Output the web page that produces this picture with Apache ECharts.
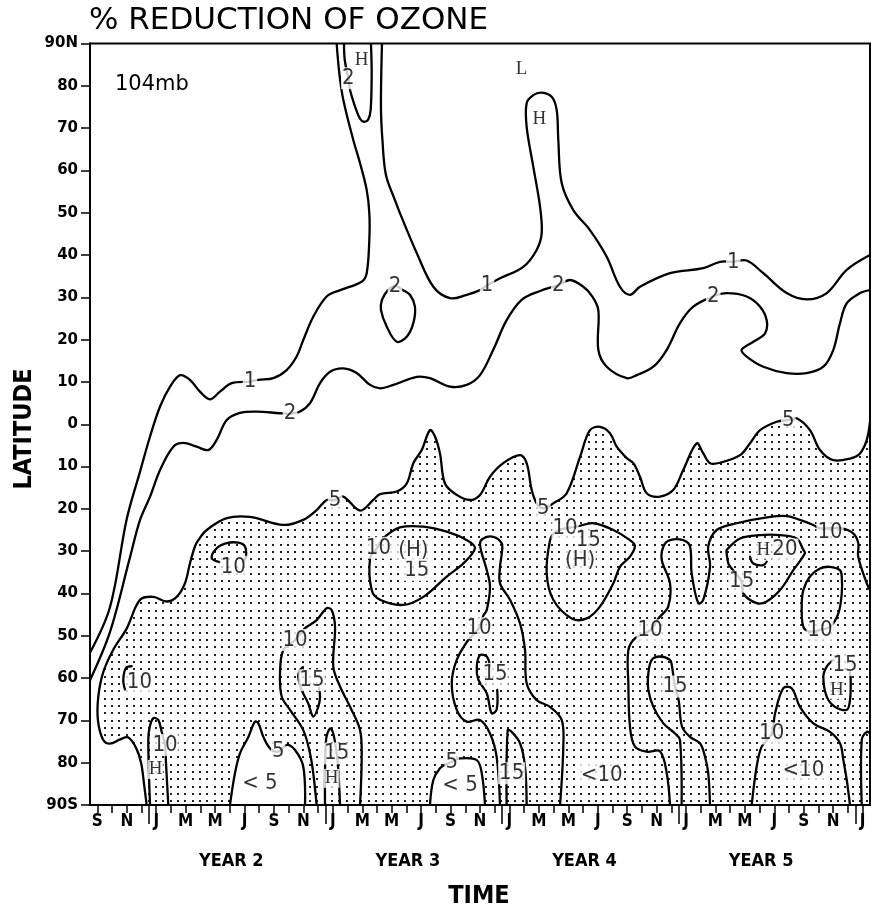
<!DOCTYPE html>
<html><head><meta charset="utf-8">
<script src="https://cdn.jsdelivr.net/npm/echarts@6/dist/echarts.min.js"></script>
<style>html,body{margin:0;padding:0;background:#fff}#c{width:872px;height:906px}</style>
</head><body><div id="c"></div>
<script>
// x = months since start of Sep, Year 1 ; y = latitude (deg, + north)
const xTickLabels = ['S','N','J','M','M','J','S','N','J','M','M','J','S','N','J','M','M','J','S','N','J','M','M','J','S','N','J'];
const yearLabels = ['YEAR 2','YEAR 3','YEAR 4','YEAR 5'];
const yearStarts = [4,16,28,40,52];
const latTickLabels = ['90S','80','70','60','50','40','30','20','10','0','10','20','30','40','50','60','70','80','90N'];

const c1a = [[0,-54],[1.36,-43.2],[2.49,-22.5],[3.40,-11.2],[4.08,-2.9],[4.76,4.2],[5.44,8.9],[6.12,11.6],[6.79,10.5],[7.47,7.7],[8.15,5.9],[8.83,7.7],[9.63,9.7],[10.87,10.1],[11.44,10.5],[12.46,10.9],[13.36,12.8],[14.04,16.0],[14.49,19.9],[15.17,25.4],[16.08,30.2],[17.0,31.7],[18.46,33.7],[18.80,35.7],[18.98,43.6],[18.98,49.9],[18.80,55.4],[18.35,61.7],[17.89,67.2],[17.21,76.7],[16.94,83.0],[16.76,90]];
const c1b = [[19.84,90],[19.77,75.0],[19.87,67.2],[20.11,58.9],[20.72,53.0],[21.06,49.9],[22.20,40.5],[23.33,32.5],[24.46,29.8],[25.60,30.6],[26.50,31.7],[26.98,32.8],[27.86,34.5],[29.44,37.2],[30.35,41.2],[30.69,45.1],[30.58,51.4],[30.12,60.9],[29.67,70.3],[29.67,75.9],[30.12,77.8],[30.69,78.4],[31.37,77.4],[31.71,74.3],[31.82,67.2],[32.05,57.0],[32.84,50.6],[33.97,45.9],[35.11,39.6],[36.01,32.5],[36.69,30.6],[37.37,32.5],[39.41,35.7],[41.67,36.9],[42.81,38.4],[43.71,38.4],[44.62,38.7],[45.75,35.7],[47.34,31.0],[48.70,29.5],[50.06,31.0],[51.42,36.5],[53,40]];
const c2main = [[0,-60.5],[1.36,-49.1],[2.72,-31.4],[3.40,-22.6],[4.08,-17.1],[4.76,-10.8],[5.66,-5.3],[6.34,-4.4],[7.25,-5.3],[8.04,-6.1],[8.61,-3.7],[9.29,1.0],[10.19,2.7],[11.33,3.0],[12.91,2.6],[13.59,2.5],[14.27,3.0],[14.95,5.0],[15.63,9.7],[16.31,12.4],[17.21,13.2],[18.12,12.1],[19.03,9.3],[19.71,8.5],[20.61,9.3],[22.20,11.2],[23.10,10.9],[24.46,8.9],[25.60,9.3],[26.50,11.6],[27.40,17.6],[28.31,24.6],[29.33,29.4],[30.58,31.5],[31.82,32.9],[32.62,34.1],[33.52,32.5],[34.11,30.3],[34.54,27.0],[34.54,17.6],[35.11,13.6],[36.47,10.9],[37.15,11.6],[38.28,13.6],[39.19,17.6],[40.09,23.9],[40.99,27.8],[42.35,30.2],[43.26,31.0],[44.62,30.2],[45.53,27.8],[45.98,24.6],[45.87,21.5],[45.07,19.5],[44.28,17.6],[44.62,16.0],[45.75,13.6],[47.34,12.1],[48.70,12.1],[49.83,13.6],[50.51,17.6],[50.96,23.9],[51.42,28.6],[52.32,31.0],[53,31.7]];
const c2top = [[17.26,90],[17.31,86.1],[17.55,81.8],[17.67,79.0],[18.01,75.1],[18.35,72.2],[18.6,71.5],[18.90,72.0],[19.07,74.3],[19.14,83.0],[19.09,90]];
const c2loop = [[20.72,32.7],[20.25,31.7],[19.84,29.4],[19.77,27.0],[20.16,23.1],[20.84,19.5],[21.52,20.7],[21.97,23.9],[22.08,27.8],[21.74,30.6],[21.27,31.7]];
const c5 = [[3.85,-90],[3.67,-85],[3.47,-80],[3.13,-76.5],[2.58,-74],[2.04,-74.5],[1.36,-75.5],[0.88,-74.5],[0.54,-70],[0.56,-64.5],[0.90,-58.6],[1.58,-53.3],[2.49,-48.3],[3.40,-41.5],[4.30,-40.8],[5.21,-41.9],[5.89,-40.8],[6.45,-37.6],[6.79,-32.9],[7.13,-28.9],[7.36,-27.4],[7.93,-25.0],[9.29,-22.2],[10.87,-21.9],[13.13,-23.8],[14.49,-22.6],[15.40,-20.3],[16.08,-17.9],[16.65,-17.9],[17.21,-17.1],[18.35,-20.4],[19.25,-17.9],[19.71,-16.5],[20.84,-15.9],[21.52,-14.0],[21.97,-9.2],[22.54,-6.1],[23.10,-1.4],[23.44,-2.9],[23.78,-6.9],[24.12,-14.0],[24.92,-16.7],[25.82,-17.9],[26.50,-16.7],[27.18,-12.4],[28.08,-9.2],[29.22,-7.3],[29.67,-9.2],[30.01,-15.5],[30.35,-18.7],[30.80,-19.9],[31.48,-18.7],[32.39,-16.3],[33.30,-7.7],[33.97,-1.4],[34.65,-0.6],[35.33,-2.1],[35.79,-5.3],[36.47,-8.0],[36.92,-9.2],[37.37,-12.4],[37.83,-16.3],[38.73,-17.1],[39.64,-15.5],[40.31,-10.8],[41.22,-4.5],[41.67,-6.9],[42.13,-9.2],[42.81,-9.1],[44.17,-7.3],[44.85,-4.5],[45.53,-1.4],[46.66,0.6],[47.45,1.0],[48.02,1.4],[48.92,-1.4],[49.60,-6.1],[50.51,-8.5],[51.64,-8.1],[52.32,-6.9],[52.78,-3.7],[53,0.6]];
const hole1 = [[9.51,-90],[9.85,-82.5],[10.19,-77.8],[10.76,-73.9],[11.21,-70.3],[11.44,-70.7],[11.78,-73.9],[12.23,-76.6],[12.79,-77.4],[13.37,-75.8],[13.93,-77.0],[14.49,-80.9],[14.61,-90]];
const hole2 = [[23.10,-90],[23.33,-84.1],[23.78,-81.3],[24.24,-80.3],[24.58,-79.8],[25.14,-79.0],[26.28,-79.4],[26.62,-82.5],[26.84,-90]];
const c10a = [[8.83,-32.6],[8.27,-31.7],[8.61,-29.3],[9.29,-28.1],[10.08,-28.0],[10.53,-28.9],[10.60,-31.3],[10.42,-32.5]];
const c10b = [[2.83,-57.2],[2.45,-57.6],[2.26,-60.4],[2.38,-62.7]];
const c10h = [[4.08,-90],[3.96,-74.6],[4.06,-71.5],[4.30,-69.5],[4.64,-69.9],[4.87,-72.7],[5.10,-75.8],[5.16,-79.8],[5.32,-90]];
const c10c = [[15.40,-90],[15.17,-82.5],[14.95,-77.8],[14.49,-72.3],[13.59,-67.5],[13.03,-64.4],[12.91,-58.9],[13.13,-53.4],[13.93,-51.0],[14.61,-48.2],[15.40,-46.3],[16.08,-43.5],[16.42,-43.9],[16.65,-47.9],[16.53,-57.3],[16.99,-62.0],[17.67,-66.8],[18.35,-72.3],[18.46,-78.6],[18.35,-90]];
const c15a = [[15.56,-62.3],[15.63,-64.5],[15.51,-66.8],[15.17,-69.1],[14.83,-66.0],[14.38,-62.8],[14.15,-59.7],[14.27,-58.1],[14.47,-57.4]];
const c15b = [[15.97,-90],[16.04,-74.6],[16.31,-71.9],[16.53,-73.1],[16.76,-77.8],[16.87,-81.7],[16.99,-90]];
const c10d = [[19.5,-29.3],[19.91,-27.0],[21.06,-24.4],[22.65,-24.2],[24.24,-25.4],[25.60,-27.4],[26.16,-29.3],[25.37,-32.9],[24.24,-36.0],[22.65,-40.8],[21.29,-42.7],[19.71,-41.5],[19.14,-39.2],[19.03,-31.7]];
const c10e = [[27.86,-90],[27.63,-78.6],[27.18,-73.1],[26.50,-69.9],[25.60,-70.3],[24.92,-67.5],[24.58,-61.2],[24.92,-55.7],[25.70,-51.0],[26.43,-48.2],[26.72,-45.3],[26.96,-43.9],[27.18,-38.4],[26.96,-34.5],[26.50,-28.5],[26.72,-27.0],[27.40,-26.6],[27.97,-28.1],[27.99,-30.2],[27.86,-33.7],[27.86,-37.6],[28.54,-41.5],[29.22,-47.1],[29.56,-53.4],[29.67,-61.2],[30.35,-65.2],[31.26,-66.8],[32.05,-69.9],[32.16,-76.2],[31.94,-90]];
const c15c = [[27.18,-57.3],[26.96,-54.9],[26.50,-54.6],[26.28,-57.3],[26.39,-60.4],[26.96,-63.6],[27.29,-68.3],[27.63,-67.5],[27.67,-62.8]];
const c15d = [[28.31,-90],[28.38,-72.3],[28.65,-72.7],[29.22,-75.4],[29.56,-80.9],[29.67,-90]];
const c10f = [[32.28,-24.6],[33.07,-24.2],[34.20,-23.4],[35.56,-25.0],[36.69,-27.4],[37.03,-28.8],[36.69,-31.3],[36.01,-33.7],[35.56,-37.6],[34.65,-43.1],[33.75,-45.9],[32.73,-45.9],[31.48,-41.5],[31.03,-35.2],[31.26,-27.4],[31.60,-25.5]];
const c10g = [[39.41,-90],[39.19,-82.5],[38.73,-77.3],[37.83,-77.4],[37.03,-76.2],[36.69,-71.5],[36.58,-61.2],[36.58,-53.4],[37.03,-50.6],[38.05,-48.7],[38.62,-45.9],[39.29,-43.1],[39.41,-37.6],[38.85,-32.1],[38.96,-28.9],[39.41,-27.4],[40.31,-27.4],[40.77,-28.9],[40.88,-35.2],[41.33,-42.3],[41.67,-41.5],[42.13,-33.7],[42.01,-28.9],[42.58,-25.0],[43.94,-23.4],[46.21,-21.9],[47.34,-21.7],[48.24,-22.6],[49.15,-23.8],[49.60,-24.6],[51.08,-24.6],[51.86,-25.8],[52.20,-28.1],[52.20,-31.3],[52.78,-37.6],[53,-39.2]];
const c15e = [[40.20,-90],[40.09,-74.6],[39.75,-73.1],[38.96,-70.7],[38.28,-66.8],[37.94,-62.8],[37.94,-58.9],[38.17,-55.7],[38.73,-54.9],[39.41,-55.7],[39.53,-56.9],[39.75,-62.0],[40.0,-65.2],[40.23,-71.5],[40.77,-73.9],[41.45,-75.4],[41.79,-78.6],[42.01,-82.5],[42.13,-90]];
const c15f = [[43.26,-29.7],[44.17,-27.0],[45.53,-26.2],[46.89,-26.2],[48.02,-27.0],[48.47,-29.7],[48.58,-30.5],[47.79,-34.5],[46.89,-39.2],[45.98,-41.9],[45.30,-42.3],[44.39,-40.0],[44.28,-37.2],[43.60,-34.1],[43.37,-32.9],[43.26,-30.5]];
const c20 = [[44.85,-31.3],[45.07,-32.9],[45.75,-33.3],[45.98,-32.5]];
const c15g = [[50.51,-55.7],[50.06,-57.3],[49.83,-59.7],[50.06,-64.4],[50.62,-66.8],[51.42,-67.5],[51.64,-65.2],[51.69,-60.5],[51.64,-58.6]];
const c10i = [[51.08,-36.0],[50.96,-34.5],[50.28,-33.7],[49.60,-34.1],[48.92,-36.0],[48.47,-39.2],[48.36,-43.1],[48.47,-47.9],[48.92,-49.0],[49.60,-48.6],[50.28,-47.9],[50.85,-44.7],[51.08,-40.0]];
const c10j = [[44.96,-90],[45.30,-80.9],[45.64,-76.2],[46.32,-73.1],[46.55,-68.3],[47.11,-62.4],[47.68,-62.4],[48.24,-66.8],[49.15,-70.7],[50.28,-72.7],[50.96,-75.4],[51.19,-79.4],[51.42,-84.1],[51.64,-90]];
const c10k = [[52.44,-90],[52.44,-74.6],[52.78,-72.7],[53,-73.1]];

const contourLabels = [
 [10.87,10.1,'1'],[26.98,32.8,'1'],[43.71,38.4,'1'],
 [13.59,2.5,'2'],[31.82,32.9,'2'],[42.35,30.2,'2'],[17.55,81.8,'2'],[20.72,32.7,'2'],
 [16.65,-17.9,'5'],[30.80,-19.9,'5'],[47.45,1.0,'5'],[12.79,-77.4,'5'],[24.58,-79.8,'5'],
 [9.74,-33.7,'10'],[3.36,-61,'10'],[5.10,-75.8,'10'],[13.93,-51.0,'10'],[19.6,-29.2,'10'],[26.43,-48.2,'10'],[32.28,-24.6,'10'],[38.05,-48.7,'10'],[50.28,-25.6,'10'],[49.60,-48.6,'10'],[46.32,-73.1,'10'],
 [15.08,-60.5,'15'],[16.76,-77.8,'15'],[22.20,-34.5,'15'],[27.52,-59.0,'15'],[28.65,-82.5,'15'],[33.86,-27.4,'15'],[39.75,-62.0,'15'],[44.28,-37.2,'15'],[51.30,-56.9,'15'],
 [47.22,-29.6,'20']
];
const markers = [[18.46,86.1,'H'],[29.33,83.9,'L'],[30.53,72.2,'H'],[4.46,-81.6,'H'],[16.42,-83.7,'H'],[45.75,-29.7,'H'],[50.74,-62.8,'H']];
const sideLabels = [[21.97,-29.7,'(H)'],[33.30,-32.1,'(H)'],[11.55,-84.9,'< 5'],[25.14,-85.3,'< 5'],[34.77,-82.9,'<10'],[48.47,-81.7,'<10']];

// stipple pattern
const pc = document.createElement('canvas'); pc.width = 22; pc.height = 22;
const pg = pc.getContext('2d'); pg.fillStyle = '#222';
[1,8,16].forEach(a => [1,8,16].forEach(b => pg.fillRect(a, b, 2, 2)));
const stipple = {image: pc, repeat: 'repeat'};

const fills = [
  {pts: c5.concat([[53.6,0.6],[53.6,-96],[3.85,-96]]), fill: stipple},
  {pts: hole1.concat([[14.61,-96],[9.51,-96]]), fill: '#fff'},
  {pts: hole2.concat([[26.84,-96],[23.10,-96]]), fill: '#fff'}
];
const lines = [
  {p:c1a},{p:c1b},{p:c2main},{p:c2top},{p:c2loop,closed:true},{p:c5},{p:hole1},{p:hole2},
  {p:c10a},{p:c10b},{p:c10h},{p:c10c},{p:c15a},{p:c15b},{p:c10d,closed:true},{p:c10e},{p:c15c},{p:c15d},
  {p:c10f,closed:true},{p:c10g},{p:c15e},{p:c15f,closed:true},{p:c20},{p:c15g},{p:c10i,closed:true},{p:c10j},{p:c10k}
];

const NARROW = '"Liberation Sans Narrow","DejaVu Sans Condensed","Liberation Sans",sans-serif';
const monthTicks = []; for (let i = 0; i < 53; i++) monthTicks.push(i + 0.5);
const monthLabelPos = xTickLabels.map((_, i) => 2 * i + 0.5);
const yearCenters = yearLabels.map((_, i) => yearStarts[i] + 5.6);

const chart = echarts.init(document.getElementById('c'), null, {renderer: 'canvas', width: 872, height: 906});
chart.setOption({
  animation: false,
  backgroundColor: '#fff',
  grid: {left: 90, right: 2, top: 43.5, bottom: 101, show: true, borderColor: '#000', borderWidth: 2, backgroundColor: 'transparent'},
  xAxis: [{
    type: 'value', min: 0, max: 53, position: 'bottom', z: 10,
    axisLine: {show: true, onZero: false, lineStyle: {color: '#000', width: 2}},
    axisTick: {show: true, customValues: monthTicks, length: 8, lineStyle: {color: '#000', width: 1.5}},
    axisLabel: {customValues: monthLabelPos, margin: 17, verticalAlign: 'middle', color: '#000',
      fontFamily: NARROW, fontWeight: 'bold', fontSize: 17,
      formatter: v => xTickLabels[Math.round((v - 0.5) / 2)] || ''},
    splitLine: {show: false}
  }, {
    type: 'value', min: 0, max: 53, position: 'bottom', z: 10,
    axisLine: {show: false, onZero: false},
    axisTick: {show: true, customValues: yearStarts, length: 19, lineStyle: {color: '#000', width: 1.5}},
    axisLabel: {customValues: yearCenters, margin: 56, verticalAlign: 'middle', color: '#000',
      fontFamily: NARROW, fontWeight: 'bold', fontSize: 18,
      formatter: v => { let k = 0, d = 1e9; yearCenters.forEach((c, i) => { if (Math.abs(c - v) < d) { d = Math.abs(c - v); k = i; } }); return yearLabels[k]; }},
    splitLine: {show: false}
  }],
  yAxis: {
    type: 'value', min: -90, max: 90, interval: 10, z: 10,
    axisLine: {show: true, onZero: false, lineStyle: {color: '#000', width: 2}},
    axisTick: {show: true, length: 9, lineStyle: {color: '#000', width: 1.5}},
    axisLabel: {margin: 12, color: '#000', fontFamily: '"DejaVu Sans",sans-serif', fontWeight: 'bold', fontSize: 15,
      formatter: v => latTickLabels[Math.round((v + 90) / 10)]},
    splitLine: {show: false}
  },
  graphic: [
    {type: 'text', x: 89, y: 21, z: 20, style: {text: '% REDUCTION OF OZONE', font: '31px "DejaVu Sans", sans-serif', fill: '#000', align: 'left', verticalAlign: 'middle', textAlign: 'left', textVerticalAlign: 'middle'}},
    {type: 'text', x: 115, y: 85, z: 20, style: {text: '104mb', font: '21px "DejaVu Sans", sans-serif', fill: '#000', align: 'left', verticalAlign: 'middle', textAlign: 'left', textVerticalAlign: 'middle'}},
    {type: 'text', x: 24, y: 429, rotation: Math.PI / 2, z: 20, style: {text: 'LATITUDE', font: 'bold 25px ' + NARROW, fill: '#000', align: 'center', verticalAlign: 'middle', textAlign: 'center', textVerticalAlign: 'middle'}},
    {type: 'text', x: 479, y: 896, z: 20, style: {text: 'TIME', font: 'bold 25px ' + NARROW, fill: '#000', align: 'center', verticalAlign: 'middle', textAlign: 'center', textVerticalAlign: 'middle'}}
  ],
  series: [{
    type: 'custom', coordinateSystem: 'cartesian2d', xAxisIndex: 0, yAxisIndex: 0, clip: true, silent: true, z: 1,
    data: fills.map((f, i) => [i, 0]),
    renderItem: (params, api) => {
      const f = fills[params.dataIndex];
      return {type: 'polygon', shape: {points: f.pts.map(p => api.coord(p)), smooth: 0.35}, style: {fill: f.fill, stroke: 'none'}};
    }
  }, {
    type: 'custom', coordinateSystem: 'cartesian2d', xAxisIndex: 0, yAxisIndex: 0, clip: true, silent: true, z: 2,
    data: lines.map((l, i) => [i, 0]),
    renderItem: (params, api) => {
      const l = lines[params.dataIndex];
      return {type: l.closed ? 'polygon' : 'polyline', shape: {points: l.p.map(p => api.coord(p)), smooth: 0.35},
        style: {fill: 'none', stroke: '#000', lineWidth: 2.3, lineJoin: 'round', lineCap: 'round'}};
    }
  }, {
    type: 'scatter', xAxisIndex: 0, yAxisIndex: 0, silent: true, z: 5, symbolSize: 1, itemStyle: {color: 'rgba(0,0,0,0)'},
    data: contourLabels.map(d => ({value: [d[0], d[1]], name: d[2]})),
    label: {show: true, position: 'inside', formatter: '{b}', color: '#000', fontFamily: NARROW, fontSize: 22, backgroundColor: '#fff', padding: [0, 1]}
  }, {
    type: 'scatter', xAxisIndex: 0, yAxisIndex: 0, silent: true, z: 5, symbolSize: 1, itemStyle: {color: 'rgba(0,0,0,0)'},
    data: markers.map(d => ({value: [d[0], d[1]], name: d[2]})),
    label: {show: true, position: 'inside', formatter: '{b}', color: '#000', fontFamily: '"Liberation Serif",serif', fontSize: 19, backgroundColor: '#fff', padding: [0, 1]}
  }, {
    type: 'scatter', xAxisIndex: 0, yAxisIndex: 0, silent: true, z: 5, symbolSize: 1, itemStyle: {color: 'rgba(0,0,0,0)'},
    data: sideLabels.map(d => ({value: [d[0], d[1]], name: d[2]})),
    label: {show: true, position: 'inside', formatter: '{b}', color: '#000', fontFamily: NARROW, fontSize: 22, backgroundColor: '#fff', padding: [0, 1]}
  }]
});
</script></body></html>
